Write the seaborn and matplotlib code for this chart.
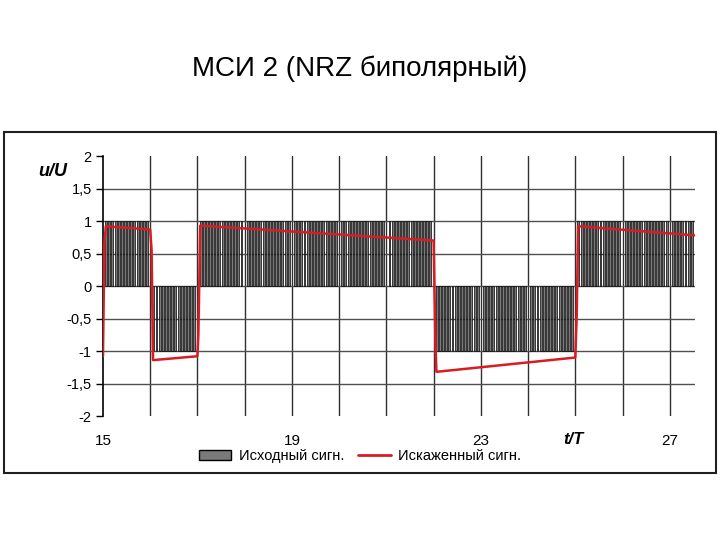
import numpy as np
import pandas as pd
import matplotlib
matplotlib.use("Agg")
import matplotlib.pyplot as plt
import matplotlib.patches as mpatches
from matplotlib.lines import Line2D
import seaborn as sns

# исходный сигнал: значение бита на каждом интервале T, начиная с t/T = 15
bit_start = 15
bits = [1, -1, 1, 1, 1, 1, 1, -1, -1, -1, 1, 1, 1]
samples_per_bit = 15
t_end = 27.53

# искаженный сигнал: точки излома
dist_t = [15.0, 15.02, 15.03, 15.06, 16.0, 16.03, 16.06, 17.0, 17.02, 17.06,
          22.0, 22.04, 22.06, 25.0, 25.03, 25.06, 27.53]
dist_u = [-1.08, 0.05, 0.65, 0.92, 0.87, 0.55, -1.14, -1.08, -0.75, 0.93,
          0.70, -0.9, -1.32, -1.10, -0.45, 0.92, 0.78]

y_ticks = [-2, -1.5, -1, -0.5, 0, 0.5, 1, 1.5, 2]
x_labels = [15, 19, 23, 27]

sns.set_style("white", {"text.color": "black", "xtick.color": "black",
                        "ytick.color": "black", "axes.labelcolor": "black"})
plt.rcParams['font.family'] = ['Liberation Sans', 'DejaVu Sans']

# развернуть биты в отсчеты для столбцов
step = 1 / samples_per_bit
rows = []
for i, b in enumerate(bits):
    for k in range(1, samples_per_bit):
        t = bit_start + i + k * step
        if t < t_end - step / 2:
            rows.append((t, b))
orig = pd.DataFrame(rows, columns=['t', 'u'])
dist = pd.DataFrame({'t': dist_t, 'u': dist_u})

fig = plt.figure(figsize=(7.2, 5.4), dpi=100)
ax = fig.add_axes([0.143, 0.2296, 0.822, 0.4814])

ax.bar(orig['t'], orig['u'], width=step * 0.62, color='#7a7a7a',
       edgecolor='black', linewidth=0.5, zorder=2)
sns.lineplot(data=dist, x='t', y='u', sort=False, color='#d81c22', lw=1.8,
             ax=ax, zorder=3)

ax.set_xlim(15, t_end)
ax.set_ylim(-2, 2)
ax.set_yticks(y_ticks)
ax.set_yticklabels([f'{v:g}'.replace('.', ',') for v in y_ticks], fontsize=10.5)
ax.set_xticks(x_labels)
ax.set_xticklabels([str(v) for v in x_labels], fontsize=11)
ax.set_xticks(np.arange(16, 28), minor=True)
ax.tick_params(axis='x', which='both', length=0, pad=13)
ax.tick_params(axis='y', length=5, width=1, color='black', pad=3, direction='out', left=True)

for v in np.arange(16, 28):
    ax.axvline(v, color='#303030', lw=1, zorder=1)
for v in [-1.5, -1, -0.5, 0, 0.5, 1, 1.5]:
    ax.axhline(v, color='#505050', lw=1, zorder=1)

for s in ['top', 'right', 'bottom']:
    ax.spines[s].set_visible(False)
ax.spines['left'].set_color('black')
ax.spines['left'].set_linewidth(1.2)
ax.set_xlabel('')
ax.set_ylabel('')

fig.text(0.053, 0.682, 'u/U', fontsize=13, fontweight='bold', style='italic',
         ha='left', va='center')
fig.text(0.797, 0.187, 't/T', fontsize=12, fontweight='bold', style='italic',
         ha='center', va='center')
fig.text(0.5, 0.873, 'МСИ 2 (NRZ биполярный)', fontsize=20, ha='center', va='center')

handles = [mpatches.Patch(facecolor='#7a7a7a', edgecolor='black', label='Исходный сигн.'),
           Line2D([], [], color='#d81c22', lw=2, label='Искаженный сигн.')]
fig.legend(handles=handles, loc='center', bbox_to_anchor=(0.5, 0.155), ncol=2,
           frameon=False, fontsize=10.5, handlelength=2.2, columnspacing=1.0,
           handletextpad=0.5)

fig.add_artist(mpatches.Rectangle((0.005, 0.124), 0.99, 0.632, transform=fig.transFigure,
                                  fill=False, edgecolor='#202020', lw=1.5))

fig.savefig('out.png', dpi=100, facecolor='white')
